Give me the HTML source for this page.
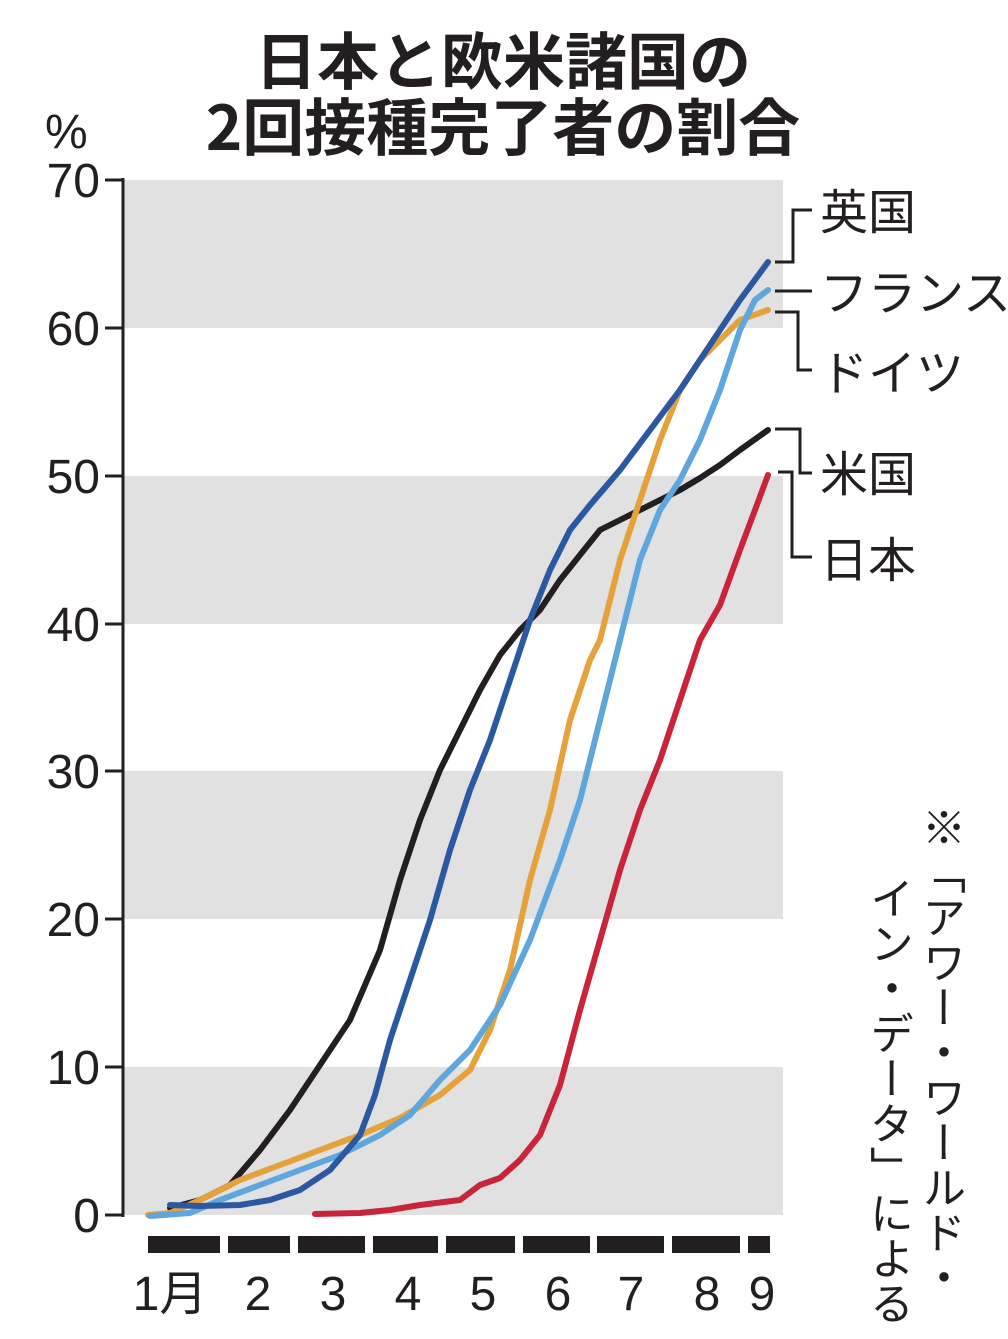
<!DOCTYPE html>
<html><head><meta charset="utf-8"><style>
html,body{margin:0;padding:0;background:#fff;}
body{width:1008px;height:1339px;position:relative;overflow:hidden;font-family:"Liberation Sans","Noto Sans CJK JP",sans-serif;color:#231f20;}
.v{position:absolute;writing-mode:vertical-rl;font-size:44px;line-height:1;font-family:"Noto Sans CJK JP",sans-serif;letter-spacing:1px;}
</style></head><body>
<svg width="1008" height="1339" style="position:absolute;left:0;top:0">
<g fill="#e1e1e2">
<rect x="123" y="180" width="660" height="148"/>
<rect x="123" y="476" width="660" height="148"/>
<rect x="123" y="771" width="660" height="148"/>
<rect x="123" y="1067" width="660" height="148"/>
</g>
<g stroke="#231f20" stroke-width="3">
<line x1="123" y1="178" x2="123" y2="1217"/>
<line x1="105" y1="180" x2="123" y2="180"/><line x1="105" y1="328" x2="123" y2="328"/>
<line x1="105" y1="476" x2="123" y2="476"/><line x1="105" y1="624" x2="123" y2="624"/>
<line x1="105" y1="771" x2="123" y2="771"/><line x1="105" y1="919" x2="123" y2="919"/>
<line x1="105" y1="1067" x2="123" y2="1067"/><line x1="105" y1="1215" x2="123" y2="1215"/>
</g>
<g font-family="Liberation Sans, sans-serif" font-size="48" fill="#231f20" text-anchor="end">
<text x="100" y="197">70</text><text x="100" y="345">60</text><text x="100" y="493">50</text>
<text x="100" y="641">40</text><text x="100" y="788">30</text><text x="100" y="936">20</text>
<text x="100" y="1084">10</text><text x="100" y="1232">0</text>
</g>
<text x="45" y="148" font-size="48" fill="#231f20" font-family="Liberation Sans, sans-serif">%</text>
<g fill="#231f20">
<rect x="148" y="1236" width="72" height="17"/><rect x="228" y="1236" width="62" height="17"/>
<rect x="298" y="1236" width="67" height="17"/><rect x="373" y="1236" width="65" height="17"/>
<rect x="446" y="1236" width="69" height="17"/><rect x="523" y="1236" width="67" height="17"/>
<rect x="597" y="1236" width="67" height="17"/><rect x="672" y="1236" width="68" height="17"/>
<rect x="748" y="1236" width="22" height="17"/>
</g>
<g font-family="Liberation Sans, Noto Sans CJK JP, sans-serif" font-size="48" fill="#231f20" text-anchor="middle">
<text x="170" y="1310">1月</text><text x="258" y="1310">2</text><text x="333" y="1310">3</text>
<text x="408" y="1310">4</text><text x="483" y="1310">5</text><text x="558" y="1310">6</text>
<text x="631" y="1310">7</text><text x="707" y="1310">8</text><text x="762" y="1310">9</text>
</g>
<g fill="none" stroke-width="6" stroke-linejoin="round" stroke-linecap="round">
<polyline stroke="#231f20" points="170,1208 200,1200 230,1185 260,1150 290,1110 320,1065 350,1020 380,950 400,880 420,820 440,770 460,730 480,690 500,655 520,630 540,610 560,580 580,555 600,530 620,520 640,510 660,500 680,490 700,478 720,465 740,450 768,430"/>
<polyline stroke="#e6a23a" points="148,1215 170,1213 200,1200 240,1180 280,1165 320,1150 360,1135 400,1118 440,1095 470,1070 490,1030 510,970 530,880 550,810 570,720 590,660 600,640 620,560 640,500 660,440 680,390 700,360 720,340 740,320 768,310"/>
<polyline stroke="#5ea6dc" points="150,1216 190,1213 220,1200 260,1185 300,1170 340,1155 380,1135 410,1115 440,1080 470,1050 500,1005 530,940 560,860 580,800 600,720 620,640 640,560 660,510 680,480 700,440 720,390 740,330 755,300 768,290"/>
<polyline stroke="#2b58a0" points="170,1205 200,1206 240,1205 270,1200 300,1190 330,1170 360,1135 375,1095 390,1040 410,980 430,920 450,850 470,790 490,740 510,680 530,620 550,570 570,530 590,505 620,470 650,430 680,390 710,345 740,300 768,262"/>
<polyline stroke="#c9243a" points="315,1214 360,1213 390,1210 420,1205 460,1200 480,1185 500,1178 520,1160 540,1135 560,1085 580,1010 600,940 620,870 640,810 660,760 680,700 700,640 720,605 740,550 755,510 768,475"/>
</g>
<g fill="none" stroke="#231f20" stroke-width="3">
<polyline points="775,262 793,262 793,210 812,210"/>
<line x1="775" y1="291" x2="812" y2="291"/>
<polyline points="775,312 798,312 798,370 812,370"/>
<polyline points="775,429 800,429 800,473 812,473"/>
<polyline points="778,472 792,472 792,557 812,557"/>
</g>
<g font-family="Noto Sans CJK JP, sans-serif" font-size="48" fill="#231f20">
<text x="820" y="229">英国</text>
<text x="820" y="310">フランス</text>
<text x="820" y="390">ドイツ</text>
<text x="820" y="491">米国</text>
<text x="820" y="577">日本</text>
</g>
<g font-family="Noto Sans CJK JP, sans-serif" font-size="62" font-weight="bold" fill="#231f20" text-anchor="middle">
<text x="503" y="84">日本と欧米諸国の</text>
<text x="503" y="150">2回接種完了者の割合</text>
</g>
</svg>
<div class="v" style="left:922px;top:805px;">※「アワー・ワールド・</div>
<div class="v" style="left:870px;top:876px;">イン・データ」による</div>
</body></html>
